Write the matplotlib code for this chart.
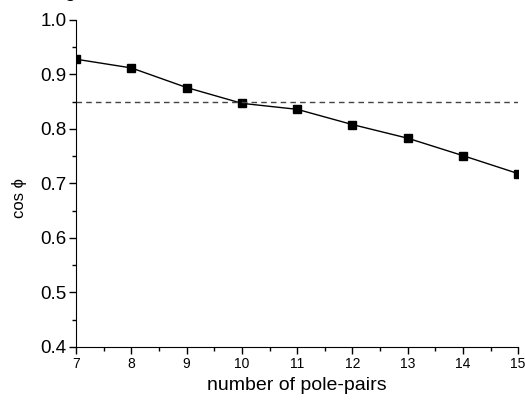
import numpy as np
import matplotlib.pyplot as plt
from matplotlib.ticker import MultipleLocator

plt.rcParams['font.family'] = ['Liberation Sans', 'DejaVu Sans']

# number of pole pairs vs power factor
pole_pairs = [7, 8, 9, 10, 11, 12, 13, 14, 15]
cos_phi = [0.928, 0.912, 0.876, 0.847, 0.836, 0.808, 0.783, 0.751, 0.718]
limit = 0.85

fig = plt.figure(figsize=(5.25, 4.0), dpi=100)
ax = fig.add_axes([0.145, 0.133, 0.842, 0.817])

ax.plot(pole_pairs, cos_phi, color='black', lw=1, marker='s', ms=6)
ax.axhline(limit, color='#444444', lw=1, ls=(0, (4, 3)))

ax.set_xlim(7, 15)
ax.set_ylim(0.4, 1.0)
ax.xaxis.set_major_locator(MultipleLocator(1))
ax.xaxis.set_minor_locator(MultipleLocator(0.5))
ax.yaxis.set_major_locator(MultipleLocator(0.1))
ax.yaxis.set_minor_locator(MultipleLocator(0.05))
ax.yaxis.set_major_formatter(plt.FormatStrFormatter('%.1f'))

for s in ['top', 'right']:
    ax.spines[s].set_visible(False)
ax.tick_params(which='major', direction='out', length=5, width=1)
ax.tick_params(which='minor', direction='out', length=3, width=1)
ax.tick_params(axis='x', labelsize=10, pad=2)
ax.tick_params(axis='y', labelsize=13.5, pad=2)

ax.set_xlabel('number of pole-pairs', fontsize=14, labelpad=5)
ax.set_ylabel('cos \u03d5', fontsize=12)
ax.yaxis.set_label_coords(-0.11, 0.455)

# title cut off by the top edge, only the descender shows
fig.text(0.133, 1.0075, 'g', fontsize=14, va='baseline', ha='center')

fig.savefig('out.png', dpi=100)
